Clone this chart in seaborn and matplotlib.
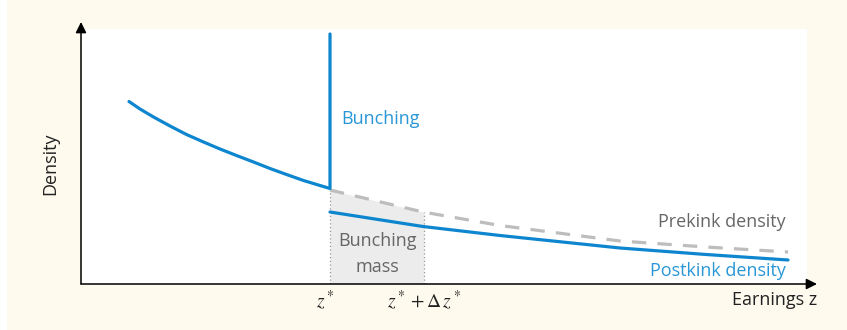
import numpy as np
import seaborn as sns
import matplotlib.pyplot as plt
import pandas as pd
from matplotlib.patches import Rectangle

# values (x: earnings, y: density)
pre_x = [0.96, 1.18, 1.45, 1.78, 2.11, 2.45, 2.78, 3.11, 3.45, 3.78, 4.11, 4.45, 4.78, 4.98]
pre_y = [3.65, 3.50, 3.34, 3.16, 2.99, 2.84, 2.70, 2.57, 2.44, 2.31, 2.19, 2.07, 1.97, 1.91]

z_star = 4.98
dz_end = 6.86
spike_top = 5.0

prekink_x = [4.98, 6.84, 8.38, 10.78, 12.5, 14.14]
prekink_y = [1.88, 1.44, 1.17, 0.86, 0.74, 0.64]

post_x = [4.98, 6.84, 8.38, 10.78, 12.5, 14.14]
post_y = [1.44, 1.15, 0.97, 0.72, 0.59, 0.48]

blue = '#0d86cf'
blue_txt = '#2996d7'
grey_txt = '#666666'
cream = '#fefbee'

sns.set_theme(style='white')
plt.rcParams['font.family'] = ['Open Sans', 'DejaVu Sans']
plt.rcParams['mathtext.fontset'] = 'stix'

fig = plt.figure(figsize=(8.47, 3.3), dpi=100, facecolor=cream)
W, H = 847, 330
# white strip at the very left, white plotting panel
fig.patches.append(Rectangle((0, 0), 7 / W, 1, transform=fig.transFigure,
                             facecolor='white', edgecolor='none', zorder=-2))
fig.patches.append(Rectangle((82 / W, (H - 284) / H), (807 - 82) / W, (284 - 29) / H,
                             transform=fig.transFigure, facecolor='white',
                             edgecolor='none', zorder=-1))

ax = fig.add_axes([81 / W, (H - 284) / H, (817 - 81) / W, (284 - 22) / H])
ax.set_facecolor('none')
ax.set_xlim(0, 14.72)
ax.set_ylim(0, 5.24)
for s in ax.spines.values():
    s.set_visible(False)
ax.set_xticks([])
ax.set_yticks([])

# axes with arrow heads
arrow = dict(arrowstyle='-|>', color='black', lw=1.1, mutation_scale=16, shrinkA=0, shrinkB=0)
ax.annotate('', xy=(1, 0), xytext=(0, 0), xycoords='axes fraction', arrowprops=arrow, annotation_clip=False)
ax.annotate('', xy=(0, 1), xytext=(0, 0), xycoords='axes fraction', arrowprops=arrow, annotation_clip=False)

# bunching mass region
px = np.array(prekink_x)
py = np.array(prekink_y)
mask_x = np.array([z_star, dz_end])
mask_y = np.interp(mask_x, px, py)
ax.fill_between(mask_x, 0, mask_y, color='#ececec', lw=0, zorder=1)
for xv, yv in zip(mask_x, mask_y):
    ax.plot([xv, xv], [0, yv], ls=(0, (1, 2)), color='#999999', lw=0.9, zorder=2)

# pre-kink curve continues straight up into the bunching spike
df_pre = pd.DataFrame({'x': pre_x + [z_star], 'y': pre_y + [spike_top]})
df_prekink = pd.DataFrame({'x': prekink_x, 'y': prekink_y})
df_post = pd.DataFrame({'x': post_x, 'y': post_y})

sns.lineplot(data=df_prekink, x='x', y='y', ax=ax, color='#bdbdbd', lw=2.3,
             linestyle=(0, (4.5, 3.5)), sort=False, zorder=3)
sns.lineplot(data=df_pre, x='x', y='y', ax=ax, color=blue, lw=2.3, sort=False, zorder=4,
             estimator=None)
sns.lineplot(data=df_post, x='x', y='y', ax=ax, color=blue, lw=2.3, sort=False, zorder=4)
ax.set_xlabel('')
ax.set_ylabel('')

# labels
ax.text(5.2, 3.3, 'Bunching', color=blue_txt, fontsize=13, ha='left', va='center')
ax.text(5.92, 0.6, 'Bunching\nmass', color=grey_txt, fontsize=13, ha='center', va='center',
        linespacing=1.5)
ax.text(14.1, 1.24, 'Prekink density', color=grey_txt, fontsize=13, ha='right', va='center')
ax.text(14.1, 0.26, 'Postkink density', color=blue_txt, fontsize=13, ha='right', va='center')
ax.text(14.72, -0.32, 'Earnings z', color='#222222', fontsize=13, ha='right', va='center')
ax.text(-0.62, 2.4, 'Density', color='#222222', fontsize=13, ha='center', va='center', rotation=90)
ax.text(z_star - 0.1, -0.32, r'$z^*$', fontsize=14, ha='center', va='center', color='#222222')
ax.text(dz_end, -0.32, r'$z^* + \Delta\, z^*$', fontsize=14, ha='center', va='center', color='#222222')

fig.savefig('out.png', dpi=100, facecolor=cream)
